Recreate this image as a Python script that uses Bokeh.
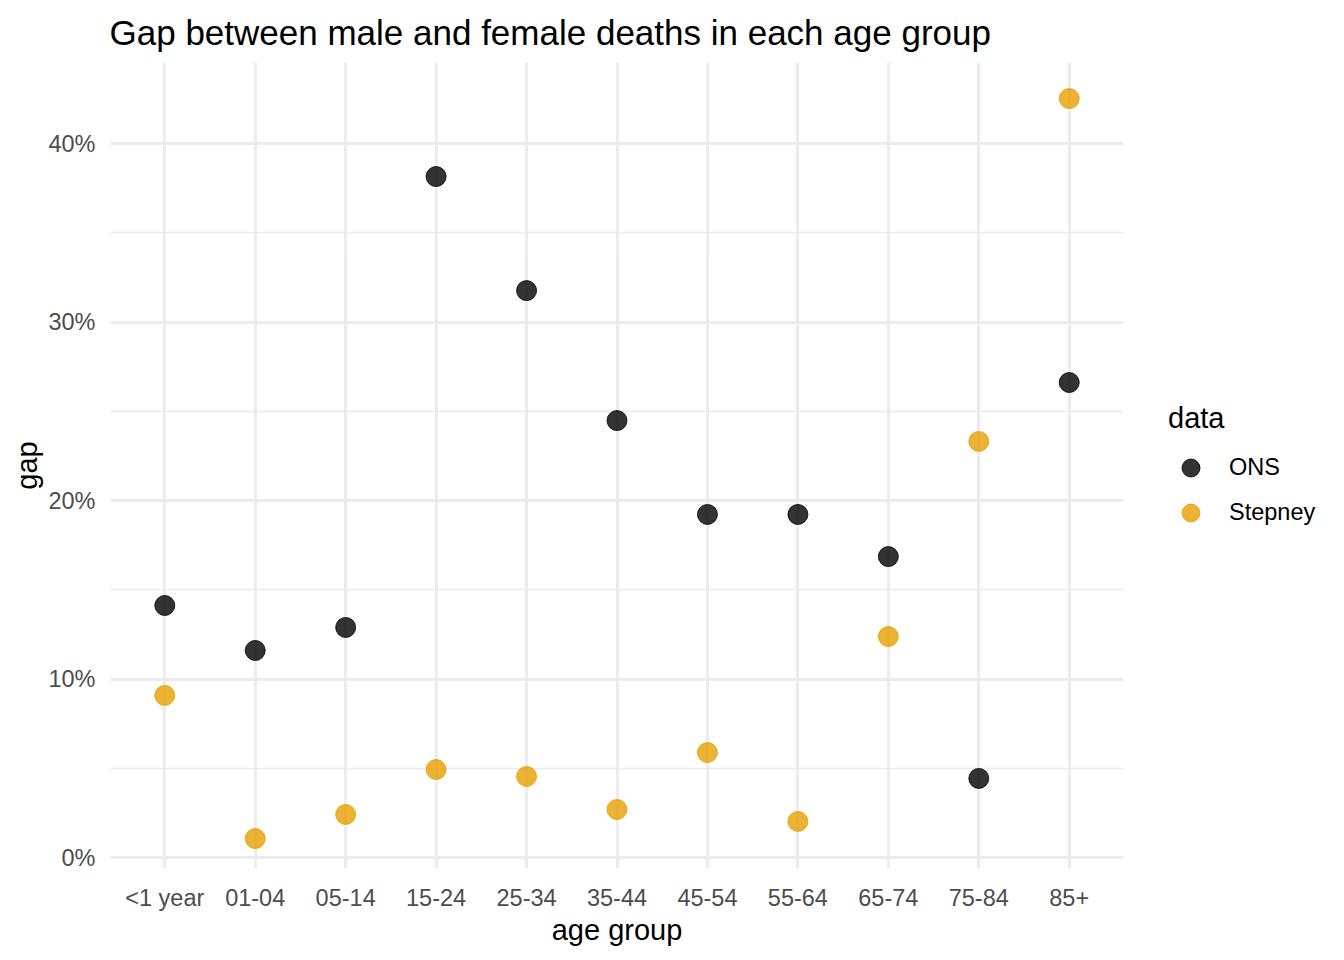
from bokeh.plotting import figure
from bokeh.layouts import row
from bokeh.models import Range1d, FixedTicker, NumeralTickFormatter, Legend, LegendItem
from bokeh.embed import file_html
from bokeh.resources import INLINE

# ---- data ----
age_groups = ["<1 year", "01-04", "05-14", "15-24", "25-34", "35-44",
              "45-54", "55-64", "65-74", "75-84", "85+"]
ons_gap = [0.1412, 0.1160, 0.1289, 0.3815, 0.3176, 0.2448,
           0.1922, 0.1922, 0.1686, 0.0443, 0.2661]
stepney_gap = [0.0908, 0.0106, 0.0241, 0.0493, 0.0454, 0.0269,
               0.0588, 0.0202, 0.1238, 0.2331, 0.4252]
series_names = ["ONS", "Stepney"]
series_colors = ["black", "#E69F00"]
y_ticks = [0.0, 0.1, 0.2, 0.3, 0.4]
y_minor_ticks = [0.05, 0.15, 0.25, 0.35]

FONT = "Liberation Sans"
x_pos = list(range(1, len(age_groups) + 1))

MAIN_W = 1133
p = figure(width=MAIN_W, height=960, output_backend="svg", toolbar_location=None,
           x_range=Range1d(0.4, 11.6), y_range=Range1d(-0.00616, 0.4454),
           min_border_left=110, min_border_right=10,
           min_border_top=62, min_border_bottom=92,
           title="Gap between male and female deaths in each age group")

p.background_fill_color = "white"
p.border_fill_color = "white"
p.outline_line_color = None

p.title.text_font = FONT
p.title.text_font_size = "35px"
p.title.text_font_style = "normal"
p.title.text_color = "black"
p.title.align = "left"
p.title.offset = -1
p.title.standoff = 21

# axes
p.xaxis.ticker = FixedTicker(ticks=x_pos)
p.xaxis.major_label_overrides = {i: lab for i, lab in zip(x_pos, age_groups)}
p.yaxis.ticker = FixedTicker(ticks=y_ticks, minor_ticks=y_minor_ticks)
p.yaxis.formatter = NumeralTickFormatter(format="0%")
p.xaxis.axis_label = "age group"
p.yaxis.axis_label = "gap"
for ax in (p.xaxis, p.yaxis):
    ax.axis_line_color = None
    ax.major_tick_line_color = None
    ax.minor_tick_line_color = None
    ax.major_tick_out = 0
    ax.major_tick_in = 0
    ax.minor_tick_out = 0
    ax.major_label_text_font = FONT
    ax.major_label_text_font_size = "23.5px"
    ax.major_label_text_color = "#4D4D4D"
    ax.axis_label_text_font = FONT
    ax.axis_label_text_font_size = "29px"
    ax.axis_label_text_font_style = "normal"
    ax.axis_label_text_color = "black"
p.xaxis.major_label_standoff = 16
p.xaxis.axis_label_standoff = 0
p.yaxis.major_label_standoff = 15
p.yaxis.axis_label_standoff = 2

# grid
p.xgrid.grid_line_color = "#EBEBEB"
p.xgrid.grid_line_width = 2.8
p.ygrid.grid_line_color = "#EBEBEB"
p.ygrid.grid_line_width = 2.8
p.ygrid.minor_grid_line_color = "#EBEBEB"
p.ygrid.minor_grid_line_width = 1.4

r_ons = p.scatter(x_pos, ons_gap, size=20, fill_color=series_colors[0],
                  line_color=series_colors[0], fill_alpha=0.8, line_alpha=0.8)
r_step = p.scatter(x_pos, stepney_gap, size=20, fill_color=series_colors[1],
                   line_color=series_colors[1], fill_alpha=0.8, line_alpha=0.8)

# ---- legend panel (separate, axis-less figure to the right; its frame is
# aligned with the main frame by the row layout) ----
lg = figure(width=1344 - MAIN_W, height=960, output_backend="svg", toolbar_location=None,
            x_range=Range1d(-2, -1), y_range=Range1d(-2, -1),
            x_axis_type=None, y_axis_type=None, min_border=0)
lg.outline_line_color = None
lg.background_fill_color = "white"
lg.border_fill_color = "white"
lg.grid.visible = False

# key glyphs: same series, plotted outside this panel's visible range
key_ons = lg.scatter(x_pos, ons_gap, size=20, fill_color=series_colors[0],
                     line_color=series_colors[0], fill_alpha=0.8, line_alpha=0.8)
key_step = lg.scatter(x_pos, stepney_gap, size=20, fill_color=series_colors[1],
                      line_color=series_colors[1], fill_alpha=0.8, line_alpha=0.8)

legend = Legend(items=[LegendItem(label=series_names[0], renderers=[key_ons]),
                       LegendItem(label=series_names[1], renderers=[key_step])],
                title="data", location=(1168 - MAIN_W, 333))
legend.padding = 0
legend.margin = 0
legend.spacing = 0
legend.border_line_color = None
legend.background_fill_alpha = 0
legend.glyph_width = 45
legend.glyph_height = 45
legend.label_height = 45
legend.label_standoff = 16
legend.label_text_font = FONT
legend.label_text_font_size = "23.5px"
legend.label_text_color = "black"
legend.title_text_font = FONT
legend.title_text_font_size = "29px"
legend.title_text_font_style = "normal"
legend.title_text_color = "black"
legend.title_standoff = 10
lg.add_layout(legend)

layout = row(p, lg, spacing=0)
open("out.html", "w").write(file_html(layout, INLINE))
